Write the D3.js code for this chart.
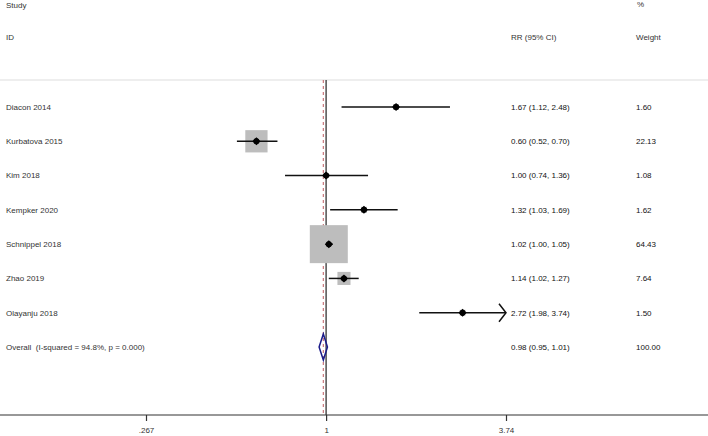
<!DOCTYPE html>
<html>
<head>
<meta charset="utf-8">
<script src="https://cdn.jsdelivr.net/npm/d3@7"></script>
<style>
  body { margin: 0; background: #fff; }
  svg { display: block; font-family: "Liberation Sans", Arial, sans-serif; }
  text { white-space: pre; }
</style>
</head>
<body>
<svg width="708" height="436"></svg>
<script>
// study data
var studies = ['Diacon 2014', 'Kurbatova 2015', 'Kim 2018', 'Kempker 2020',
  'Schnippel 2018', 'Zhao 2019', 'Olayanju 2018'];
var rr = [1.67, 0.60, 1.00, 1.32, 1.02, 1.14, 2.72];
var lower = [1.12, 0.52, 0.74, 1.03, 1.00, 1.02, 1.98];
var upper = [2.48, 0.70, 1.36, 1.69, 1.05, 1.27, 3.74];
var weights = [1.60, 22.13, 1.08, 1.62, 64.43, 7.64, 1.50];

// pooled estimate
var overallLabel = 'Overall  (I-squared = 94.8%, p = 0.000)';
var overall = { rr: 0.98, lower: 0.95, upper: 1.01, weight: 100.00 };

var tickValues = [0.267, 1, 3.74];
var tickLabels = ['.267', '1', '3.74'];

var svg = d3.select('svg');
var W = 708, axisY = 415, topY = 80;

var x = d3.scaleLog().domain([0.267, 3.74]).range([146, 506]);
var rows = studies.concat([overallLabel]);
var y = d3.scalePoint().domain(rows).range([107, 347]);
var box = d3.scaleSqrt().domain([0, 64.43]).range([0, 38]);

var fmt = d3.format('.2f');

// headers
var hdr = svg.append('g').attr('font-size', 8).attr('fill', '#333');
hdr.append('text').attr('x', 6).attr('y', 8).text('Study');
hdr.append('text').attr('x', 6).attr('y', 40).text('ID');
hdr.append('text').attr('x', 511).attr('y', 40).text('RR (95% CI)');
hdr.append('text').attr('x', 637).attr('y', 7).text('%');
hdr.append('text').attr('x', 636).attr('y', 40).text('Weight');

// top rule
svg.append('line')
  .attr('x1', 0).attr('x2', W)
  .attr('y1', topY).attr('y2', topY)
  .attr('stroke', '#ddd').attr('stroke-width', 1);

// null line and pooled line
svg.append('line')
  .attr('x1', x(1)).attr('x2', x(1))
  .attr('y1', topY).attr('y2', axisY)
  .attr('stroke', '#333').attr('stroke-width', 1.3);
svg.append('line')
  .attr('x1', x(overall.rr)).attr('x2', x(overall.rr))
  .attr('y1', topY).attr('y2', axisY)
  .attr('stroke', '#c9787c').attr('stroke-width', 1.2)
  .attr('stroke-dasharray', '3,3');

var data = studies.map(function(s, i) {
  return { name: s, rr: rr[i], lo: lower[i], hi: upper[i], w: weights[i] };
});

// weight boxes
svg.selectAll('.box')
  .data(data)
  .enter()
  .append('rect')
  .attr('class', 'box')
  .attr('x', function(d) { return x(d.rr) - box(d.w) / 2; })
  .attr('y', function(d) { return y(d.name) - box(d.w) / 2; })
  .attr('width', function(d) { return box(d.w); })
  .attr('height', function(d) { return box(d.w); })
  .style('fill', '#bdbdbd');

// confidence intervals
svg.selectAll('.ci')
  .data(data)
  .enter()
  .append('line')
  .attr('class', 'ci')
  .attr('x1', function(d) { return x(d.lo); })
  .attr('x2', function(d) { return Math.min(x(d.hi), x(3.74)); })
  .attr('y1', function(d) { return y(d.name); })
  .attr('y2', function(d) { return y(d.name); })
  .attr('stroke', '#111').attr('stroke-width', 1.5);

// arrow for clipped CI
data.filter(function(d) { return d.hi >= 3.74; }).forEach(function(d) {
  var ax = x(3.74), ay = y(d.name);
  svg.append('path')
    .attr('d', 'M' + (ax - 7) + ',' + (ay - 9) + 'L' + ax + ',' + ay + 'L' + (ax - 7) + ',' + (ay + 9))
    .attr('fill', 'none').attr('stroke', '#111').attr('stroke-width', 1.5);
});

// point estimates
svg.selectAll('.pt')
  .data(data)
  .enter()
  .append('path')
  .attr('class', 'pt')
  .attr('transform', function(d) { return 'translate(' + x(d.rr) + ',' + y(d.name) + ')'; })
  .attr('d', 'M0,-4L4,0L0,4L-4,0Z')
  .style('fill', '#000');
svg.selectAll('.dot')
  .data(data)
  .enter()
  .append('circle')
  .attr('class', 'dot')
  .attr('cx', function(d) { return x(d.rr); })
  .attr('cy', function(d) { return y(d.name); })
  .attr('r', 3)
  .style('fill', '#000');

// overall diamond
var oy = y(overallLabel);
svg.append('path')
  .attr('d', 'M' + x(overall.lower) + ',' + oy +
    'L' + x(overall.rr) + ',' + (oy - 13) +
    'L' + x(overall.upper) + ',' + oy +
    'L' + x(overall.rr) + ',' + (oy + 13) + 'Z')
  .attr('fill', 'none').attr('stroke', '#1c1c8a').attr('stroke-width', 1.5);

// text columns
var labels = rows.map(function(r, i) {
  if (i < studies.length) {
    return { name: r, ci: fmt(rr[i]) + ' (' + fmt(lower[i]) + ', ' + fmt(upper[i]) + ')', w: fmt(weights[i]) };
  }
  return { name: r, ci: fmt(overall.rr) + ' (' + fmt(overall.lower) + ', ' + fmt(overall.upper) + ')', w: fmt(overall.weight) };
});

var tg = svg.append('g').attr('font-size', 8);
tg.selectAll('.nm')
  .data(labels)
  .enter()
  .append('text')
  .attr('x', 6)
  .attr('y', function(d) { return y(d.name); })
  .attr('dy', '0.35em')
  .attr('fill', '#333')
  .text(function(d) { return d.name; });
tg.selectAll('.cil')
  .data(labels)
  .enter()
  .append('text')
  .attr('x', 511)
  .attr('y', function(d) { return y(d.name); })
  .attr('dy', '0.35em')
  .attr('fill', '#111')
  .text(function(d) { return d.ci; });
tg.selectAll('.wl')
  .data(labels)
  .enter()
  .append('text')
  .attr('x', 636)
  .attr('y', function(d) { return y(d.name); })
  .attr('dy', '0.35em')
  .attr('fill', '#111')
  .text(function(d) { return d.w; });

// x axis
svg.append('line')
  .attr('x1', 0).attr('x2', W)
  .attr('y1', axisY).attr('y2', axisY)
  .attr('stroke', '#333').attr('stroke-width', 1.2);
var ax = svg.append('g')
  .attr('transform', 'translate(0,' + axisY + ')')
  .call(d3.axisBottom(x)
    .tickValues(tickValues)
    .tickFormat(function(d, i) { return tickLabels[i]; })
    .tickSize(6)
    .tickPadding(6));
ax.select('.domain').remove();
ax.selectAll('line').attr('stroke', '#333').attr('stroke-width', 1.2);
ax.selectAll('text').attr('font-size', 8).attr('fill', '#333')
  .style('font-family', '"Liberation Sans", Arial, sans-serif');
</script>
</body>
</html>
